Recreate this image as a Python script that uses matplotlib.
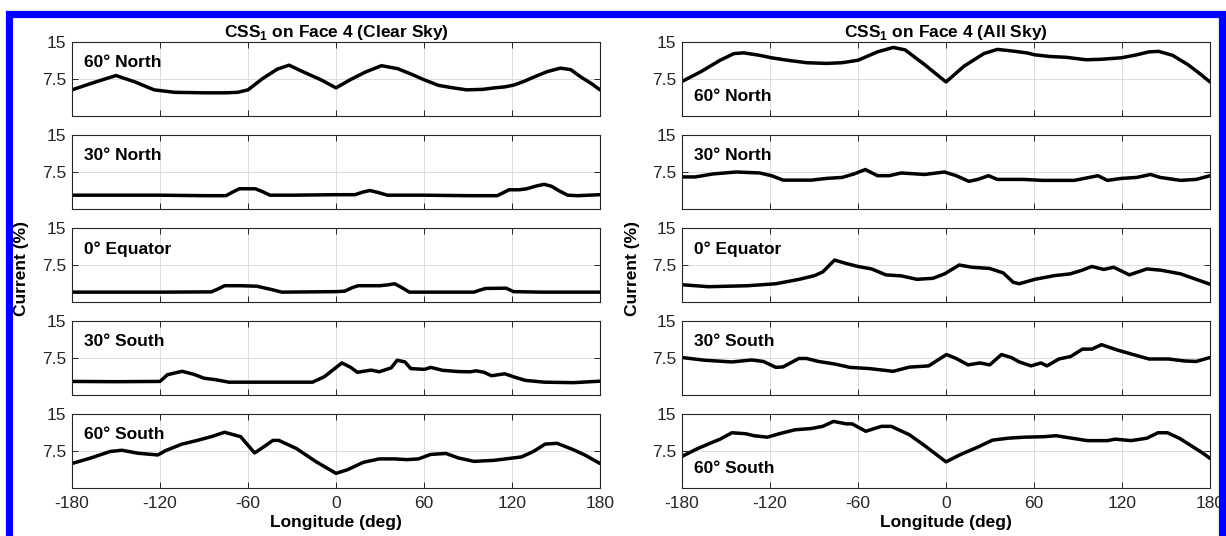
import matplotlib
matplotlib.use("Agg")
import matplotlib.pyplot as plt
from matplotlib.lines import Line2D

plt.rcParams["font.family"] = ["Liberation Sans", "DejaVu Sans"]
plt.rcParams["mathtext.fontset"] = "custom"
plt.rcParams["mathtext.rm"] = "Liberation Sans:bold"
plt.rcParams["mathtext.bf"] = "Liberation Sans:bold"

# ---- data ----
titles = ["CSS$_1$ on Face 4 (Clear Sky)", "CSS$_1$ on Face 4 (All Sky)"]
row_labels = ["60\u00b0 North", "30\u00b0 North", "0\u00b0 Equator", "30\u00b0 South", "60\u00b0 South"]
x_ticks = [-180, -120, -60, 0, 60, 120, 180]
y_ticks = [7.5, 15]

# clear sky
clear_60n_lon = [-180, -165, -150, -137, -124, -110, -90, -75, -67, -60, -50, -40, -32, -22, -10, 0, 10, 20, 31,
                 42, 52, 60, 70, 80, 89, 100, 108, 115, 121, 128, 135, 144, 153, 160, 167, 174, 180]
clear_60n_val = [5.3, 6.8, 8.2, 6.9, 5.3, 4.8, 4.7, 4.7, 4.8, 5.3, 7.6, 9.5, 10.3, 8.9, 7.3, 5.7, 7.4, 8.9, 10.2,
                 9.6, 8.4, 7.35, 6.2, 5.7, 5.3, 5.4, 5.7, 5.9, 6.25, 7.0, 7.9, 9.0, 9.7, 9.4, 7.9, 6.6, 5.3]

clear_30n_lon = [-180, -150, -120, -90, -75, -70, -66, -55, -50, -45, -30, 0, 13, 18, 23, 28, 35, 60, 90, 110,
                 114, 118, 125, 130, 137, 142, 147, 152, 158, 165, 180]
clear_30n_val = [2.8, 2.8, 2.8, 2.7, 2.7, 3.5, 4.1, 4.1, 3.5, 2.8, 2.8, 2.9, 2.9, 3.4, 3.75, 3.4, 2.8, 2.8, 2.7, 2.7,
                 3.3, 3.9, 3.9, 4.1, 4.7, 5.0, 4.6, 3.7, 2.8, 2.7, 2.9]

clear_eq_lon = [-180, -120, -85, -80, -76, -65, -54, -45, -37, 0, 6, 11, 15, 30, 36, 40, 45, 50, 94, 98, 102, 116,
                121, 140, 180]
clear_eq_val = [2.0, 2.0, 2.05, 2.7, 3.3, 3.3, 3.2, 2.6, 2.0, 2.1, 2.2, 2.9, 3.3, 3.3, 3.5, 3.7, 2.9, 2.0, 2.0, 2.4,
                2.75, 2.8, 2.1, 2.0, 2.0]

clear_30s_lon = [-180, -150, -120, -115, -105, -97, -90, -82, -73, -60, -30, -16, -8, 4, 10, 14.6, 24, 29.5, 37.6,
                 41.7, 47, 51, 60.5, 64.6, 72.7, 83.5, 91.6, 95.6, 101, 106, 115, 121, 129, 142, 162, 180]
clear_30s_val = [2.75, 2.7, 2.75, 4.1, 4.8, 4.2, 3.4, 3.1, 2.6, 2.6, 2.6, 2.6, 3.7, 6.5, 5.6, 4.6, 5.05, 4.7, 5.5,
                 7.05, 6.7, 5.35, 5.2, 5.6, 5.0, 4.75, 4.7, 4.9, 4.6, 3.9, 4.3, 3.7, 2.97, 2.6, 2.5, 2.8]

clear_60s_lon = [-180, -167, -154, -146, -135, -121.5, -116, -105, -94.5, -84, -76, -65, -55.5, -50, -43, -39, -27,
                 -13.7, 0, 7.8, 18.6, 29.4, 40, 48.3, 56.3, 64.4, 75, 83.3, 94, 107.6, 115.7, 126.5, 134.6, 142.6,
                 150.7, 161.5, 169.6, 180]
clear_60s_val = [4.97, 6.1, 7.4, 7.65, 7.05, 6.7, 7.6, 8.9, 9.65, 10.5, 11.3, 10.4, 7.1, 8.2, 9.65, 9.65, 8.0,
                 5.35, 2.97, 3.7, 5.2, 5.9, 5.9, 5.75, 5.9, 6.8, 7.0, 6.1, 5.4, 5.6, 5.9, 6.3, 7.4, 8.9,
                 9.06, 7.8, 6.7, 4.97]

# all sky
all_60n_lon = [-180, -167, -154, -144.6, -138, -127, -119, -108, -95, -81.5, -70.8, -60, -46.7, -36, -27.9, -14.5,
               0, 12.3, 25.8, 35, 44.5, 55, 60.5, 71, 82, 95.4, 106, 119.6, 130, 138.4, 145, 154.5, 165, 173, 180]
all_60n_val = [7.0, 9.0, 11.3, 12.65, 12.8, 12.3, 11.8, 11.3, 10.8, 10.66, 10.8, 11.3, 13.0, 13.9, 13.4, 10.4,
               6.9, 10.1, 12.65, 13.5, 13.2, 12.8, 12.4, 12.06, 11.9, 11.4, 11.5, 11.8, 12.4, 13.0, 13.1, 12.3,
               10.4, 8.6, 6.9]

all_30n_lon = [-180, -171, -159, -143, -127, -119, -111, -92, -81.5, -70.8, -62.8, -55, -46.7, -38.6, -30.6, -14.5,
               -1, 7, 15.6, 21.7, 29, 35, 52.5, 66, 87.5, 103.6, 110, 119.6, 130, 139.5, 146, 160, 170.6, 180]
all_30n_val = [6.5, 6.5, 7.1, 7.5, 7.3, 6.75, 5.85, 5.85, 6.2, 6.4, 7.1, 8.0, 6.75, 6.75, 7.3, 7.0,
               7.5, 6.75, 5.6, 6.0, 6.75, 6.0, 6.0, 5.8, 5.8, 6.75, 5.8, 6.2, 6.4, 7.0, 6.4, 5.8, 6.0, 6.75]

all_eq_lon = [-180, -162, -135, -116, -100, -89.6, -84, -76, -68, -60, -50.7, -41, -30.6, -19.8, -9, -1, 9, 17.6,
              29.7, 39, 45.8, 50, 60.6, 74, 84.7, 92.8, 99.5, 107.6, 114.3, 125, 137, 146.5, 160, 170.5, 180]
all_eq_val = [3.5, 3.1, 3.3, 3.7, 4.6, 5.35, 6.1, 8.5, 7.8, 7.2, 6.7, 5.5, 5.3, 4.6, 4.8, 5.7, 7.5, 7.05,
              6.8, 5.9, 4.0, 3.7, 4.6, 5.35, 5.7, 6.45, 7.2, 6.6, 7.05, 5.5, 6.7, 6.45, 5.7, 4.6, 3.6]

all_30s_lon = [-180, -164.7, -146, -132.5, -124.5, -116, -111, -100.4, -95, -87, -76.2, -65.5, -52, -36, -25, -11.8,
               0.3, 7, 15, 23.2, 29.8, 37.8, 44.5, 50, 58, 64.8, 68.8, 77, 85, 93, 99.5, 106, 117, 127.6, 138.4,
               151.8, 162.6, 170.6, 180]
all_30s_val = [7.6, 7.05, 6.7, 7.1, 6.8, 5.6, 5.7, 7.4, 7.4, 6.8, 6.3, 5.6, 5.35, 4.8, 5.65, 5.9,
               8.2, 7.4, 6.1, 6.5, 6.1, 8.2, 7.6, 6.7, 5.9, 6.5, 5.9, 7.3, 7.8, 9.3, 9.3, 10.2, 9.1, 8.2, 7.3,
               7.3, 6.9, 6.8, 7.6]

all_60s_lon = [-180, -170, -159, -154, -146, -136.6, -131, -121.8, -113.7, -103, -92, -84, -76.7, -68, -64, -54.7,
               -44, -37.3, -25, -14.6, 0, 10, 21, 31.7, 42.5, 53.3, 66.8, 75, 85.7, 96.5, 110, 115.5, 126.2, 137,
               144.5, 151, 159, 167, 175, 180]
all_60s_val = [6.4, 7.9, 9.3, 9.9, 11.2, 11.0, 10.6, 10.3, 11.0, 11.8, 12.05, 12.5, 13.5, 13.0, 13.0, 11.5,
               12.5, 12.5, 10.8, 8.6, 5.3, 6.8, 8.2, 9.7, 10.1, 10.3, 10.4, 10.6, 10.1, 9.6, 9.6, 9.9, 9.6, 10.1,
               11.2, 11.2, 10.1, 8.6, 7.1, 6.0]

series = [
    [(clear_60n_lon, clear_60n_val), (clear_30n_lon, clear_30n_val), (clear_eq_lon, clear_eq_val),
     (clear_30s_lon, clear_30s_val), (clear_60s_lon, clear_60s_val)],
    [(all_60n_lon, all_60n_val), (all_30n_lon, all_30n_val), (all_eq_lon, all_eq_val),
     (all_30s_lon, all_30s_val), (all_60s_lon, all_60s_val)],
]
# where the row label sits (True = top of panel)
label_top = [[True] * 5, [False, True, True, True, False]]

# ---- figure ----
W, H = 1226, 536
fig = plt.figure(figsize=(W / 100, H / 100), dpi=100)

col_left = [72, 682]
col_width = 528
row_top0 = 42
row_h = 74
row_pitch = 93

for c in range(2):
    for r in range(5):
        top = row_top0 + r * row_pitch
        ax = fig.add_axes([col_left[c] / W, 1 - (top + row_h) / H, col_width / W, row_h / H])
        lon, val = series[c][r]
        ax.plot(lon, val, color="black", lw=2.5, solid_joinstyle="round", solid_capstyle="round")
        ax.set_xlim(-180, 180)
        ax.set_ylim(0, 15)
        ax.set_xticks(x_ticks)
        ax.set_yticks(y_ticks)
        ax.set_yticklabels(["7.5", "15"])
        ax.grid(True, color="#dcdcdc", lw=0.7)
        ax.tick_params(direction="in", top=True, right=True, length=4, width=0.7,
                       labelsize=12.5, colors="#262626", pad=4)
        ax.tick_params(axis="x", pad=6)
        for sp in ax.spines.values():
            sp.set_color("#262626")
            sp.set_linewidth(0.8)
        if r < 4:
            ax.set_xticklabels([])
        else:
            ax.set_xticklabels([str(t) for t in x_ticks])
            ax.set_xlabel("Longitude (deg)", fontsize=12.5, fontweight="bold", labelpad=3)
        if r == 0:
            ax.set_title(titles[c], fontsize=12.5, fontweight="bold", pad=3)
        if label_top[c][r]:
            ax.text(0.022, 0.72, row_labels[r], transform=ax.transAxes, fontsize=12.5,
                    fontweight="bold", va="center", ha="left")
        else:
            ax.text(0.022, 0.27, row_labels[r], transform=ax.transAxes, fontsize=12.5,
                    fontweight="bold", va="center", ha="left")

fig.text(22 / W, 0.5, "Current (%)", rotation=90, fontsize=12.5, fontweight="bold", va="center", ha="center")
fig.text(633 / W, 0.5, "Current (%)", rotation=90, fontsize=12.5, fontweight="bold", va="center", ha="center")

# blue frame (left, top, right)
bx0, bx1, by = 8.5 / W, 1222 / W, 1 - 13.5 / H
fig.add_artist(Line2D([bx0, bx0, bx1, bx1], [-0.1, by, by, -0.1], transform=fig.transFigure,
                      color="#0000ff", lw=5.2, solid_joinstyle="miter"))

fig.savefig("out.png", dpi=100)
